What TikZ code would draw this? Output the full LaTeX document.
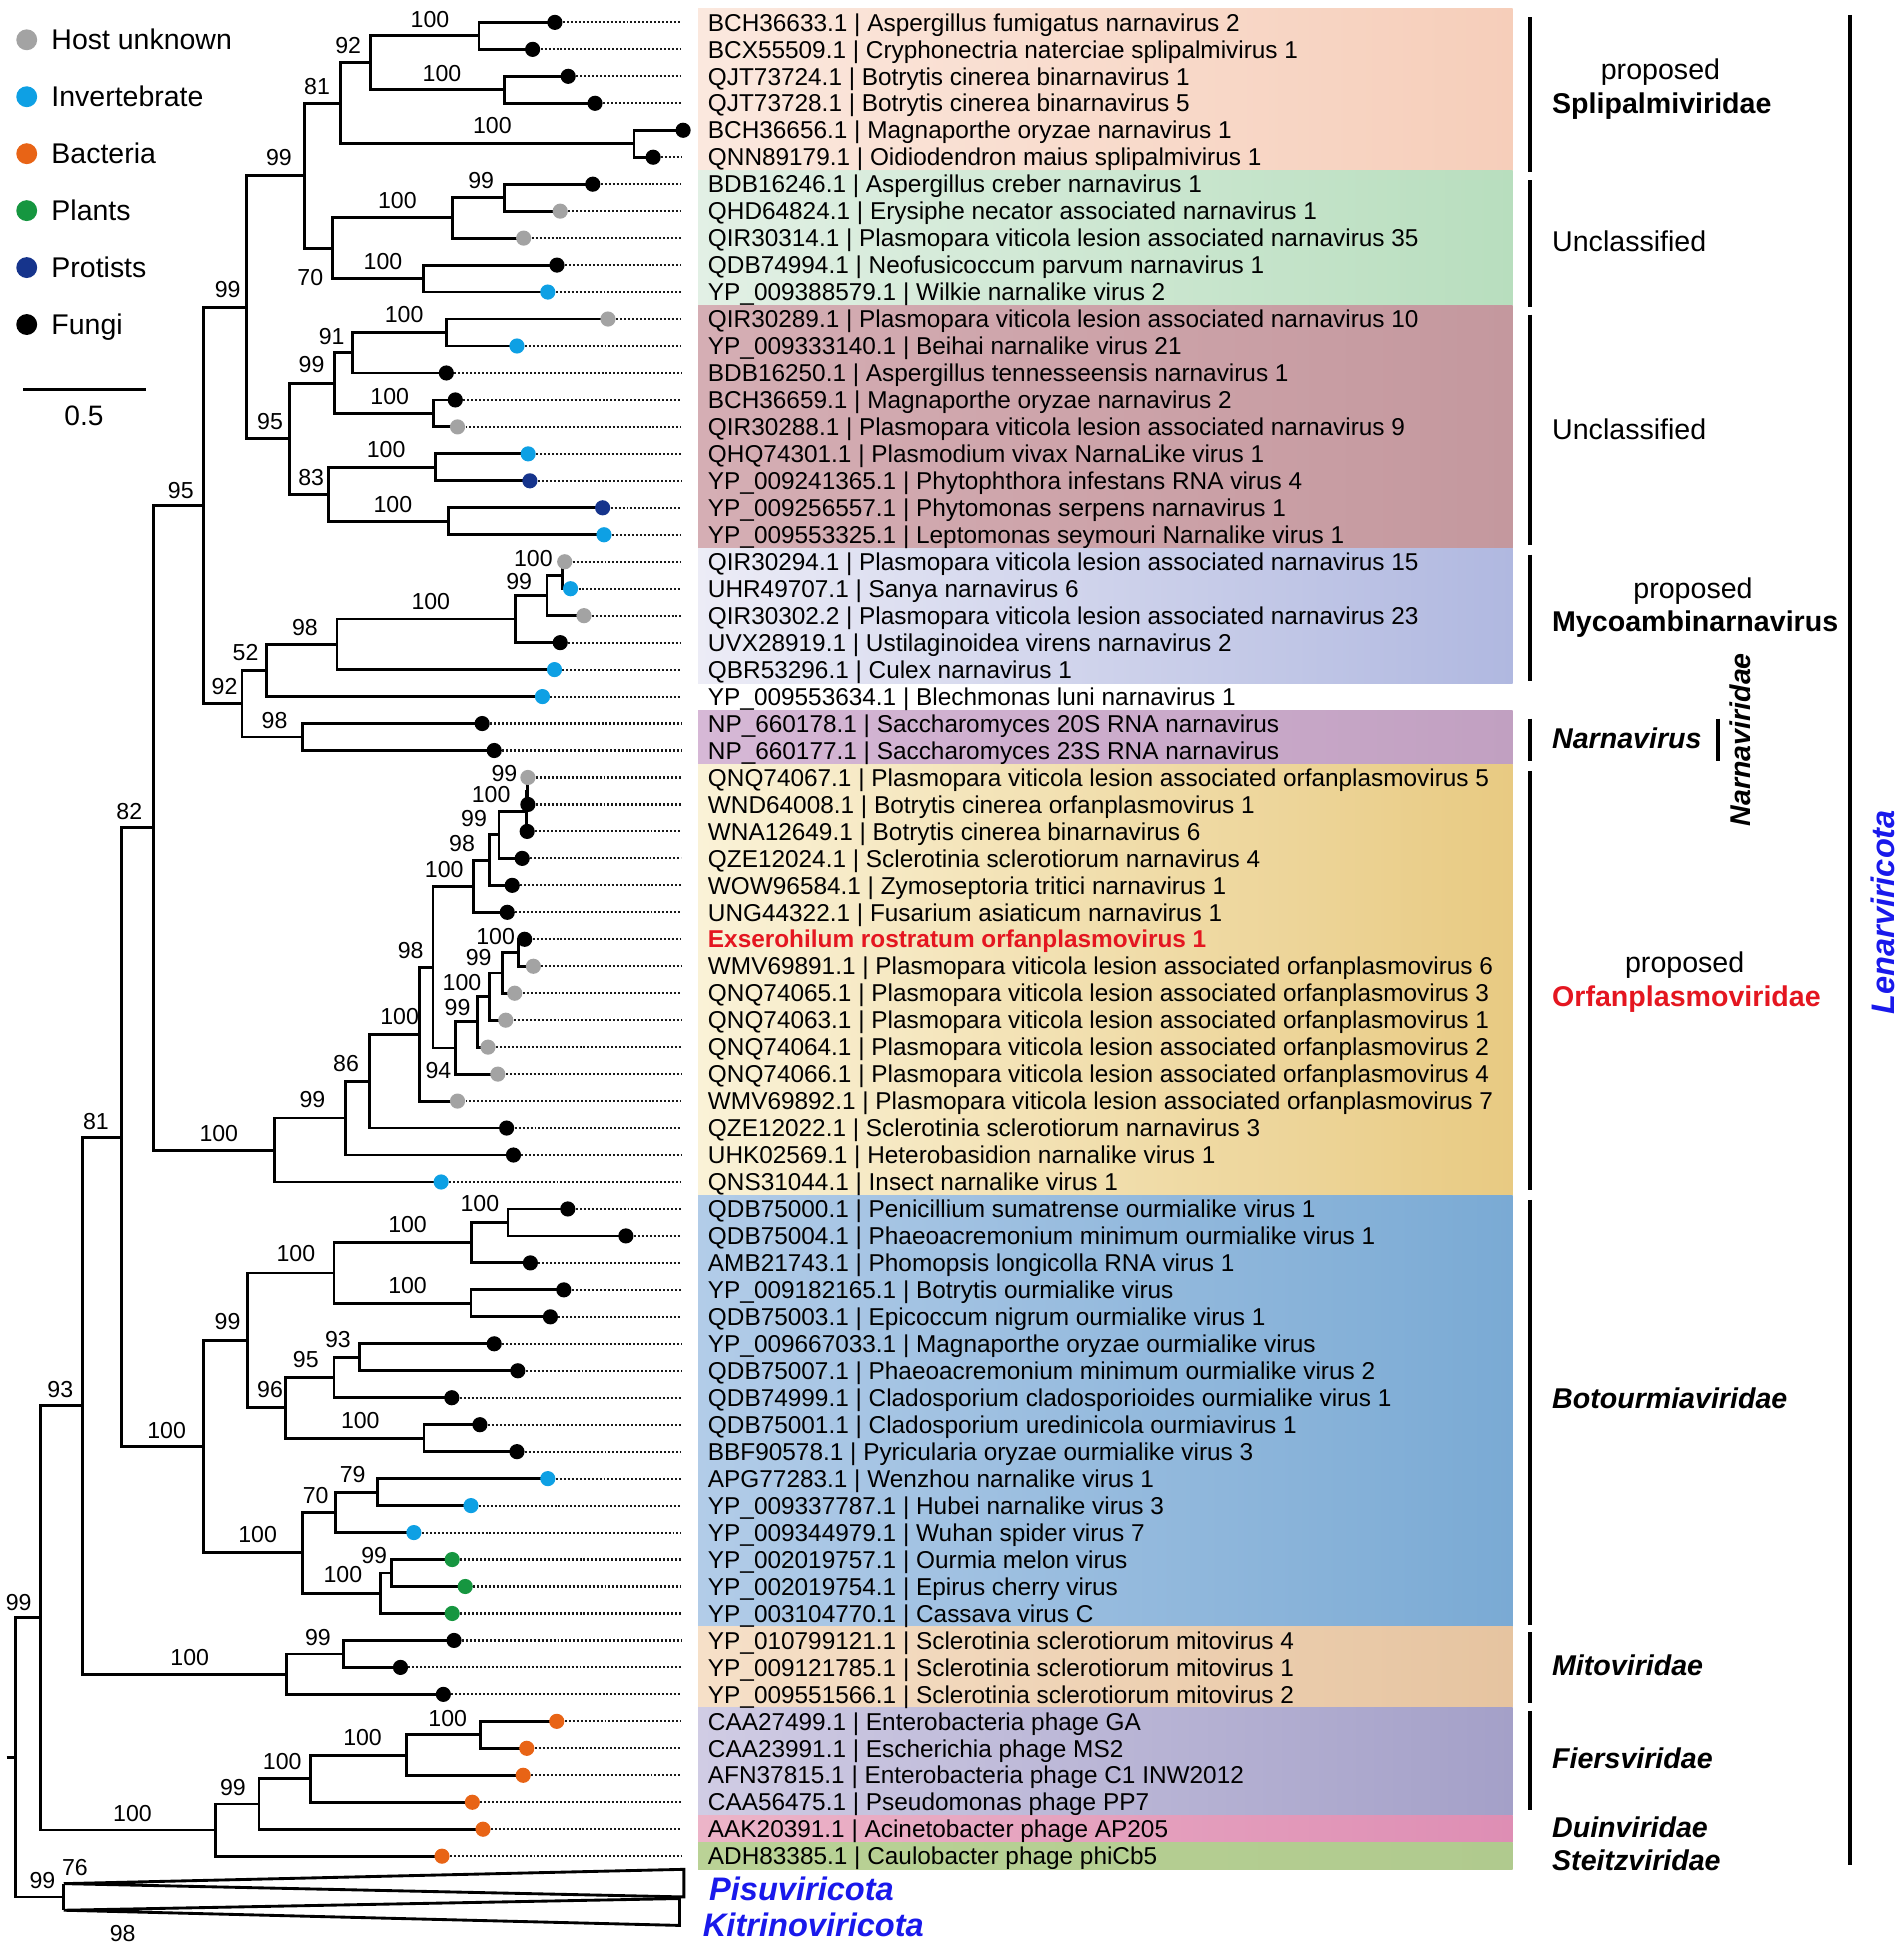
\documentclass[tikz,border=0pt]{standalone}
\usepackage{fontspec}
\setmainfont{Liberation Sans}
\definecolor{hostg}{RGB}{163,163,163}
\definecolor{invb}{RGB}{14,160,228}
\definecolor{bacto}{RGB}{232,100,22}
\definecolor{plantg}{RGB}{22,150,64}
\definecolor{protb}{RGB}{22,52,140}
\definecolor{fungi}{RGB}{0,0,0}
\definecolor{phylblue}{RGB}{25,25,235}
\definecolor{hlred}{RGB}{228,22,32}
\definecolor{bal}{RGB}{251,232,222}\definecolor{bar}{RGB}{246,206,186}
\definecolor{bbl}{RGB}{226,240,229}\definecolor{bbr}{RGB}{184,222,190}
\definecolor{bcl}{RGB}{213,174,180}\definecolor{bcr}{RGB}{196,152,158}
\definecolor{bdl}{RGB}{236,236,246}\definecolor{bdr}{RGB}{176,184,224}
\definecolor{bel}{RGB}{214,184,214}\definecolor{ber}{RGB}{193,160,193}
\definecolor{bfl}{RGB}{250,242,215}\definecolor{bfr}{RGB}{232,202,130}
\definecolor{bgl}{RGB}{178,204,232}\definecolor{bgr}{RGB}{122,170,212}
\definecolor{bhl}{RGB}{246,224,200}\definecolor{bhr}{RGB}{230,196,160}
\definecolor{bil}{RGB}{208,204,228}\definecolor{bir}{RGB}{164,160,200}
\definecolor{bjl}{RGB}{236,180,200}\definecolor{bjr}{RGB}{222,142,180}
\definecolor{bkl}{RGB}{186,210,150}\definecolor{bkr}{RGB}{176,202,142}
\tikzset{
  branch/.style={line width=1.15pt, line join=miter},
  tipline/.style={line width=0.85pt, dash pattern=on 0.8pt off 0.8pt, black!90},
  taxon/.style={anchor=west, inner sep=0pt, text height=7.0pt, text depth=0pt, font=\fontsize{9.8pt}{11pt}\selectfont},
  sup/.style={inner sep=0pt, text height=6.66pt, text depth=0pt, font=\fontsize{9.3pt}{11pt}\selectfont},
  legtext/.style={anchor=west, inner sep=0pt, text height=8.2pt, text depth=0pt, font=\fontsize{11.45pt}{13pt}\selectfont},
  cladetext/.style={anchor=west, inner sep=0pt, text height=8.23pt, text depth=0pt, font=\fontsize{11.5pt}{13.5pt}\selectfont},
  proptext/.style={inner sep=0pt, text height=8.23pt, text depth=0pt, font=\fontsize{11.5pt}{13.5pt}\selectfont},
  phyltext/.style={anchor=west, inner sep=0pt, text height=9.4pt, text depth=0pt, font=\fontsize{13.1pt}{15pt}\selectfont\bfseries\itshape, text=phylblue},
  cbar/.style={line width=1.5pt},
}
\def\tiplist{1/446.3/fungi,2/428.4/fungi,3/457/fungi,4/478.6/fungi,5/549.4/fungi,6/525.3/fungi,7/476.8/fungi,8/450.6/hostg,9/421.2/hostg,10/448/fungi,11/440.6/invb,12/489/hostg,13/415.8/invb,14/359/fungi,15/366.2/fungi,16/368/hostg,17/424.8/invb,18/426.2/protb,19/484.7/protb,20/485.8/invb,21/454.2/hostg,22/458.9/invb,23/469.7/hostg,24/450.6/fungi,25/446/invb,26/436.3/invb,27/387.8/fungi,28/397.5/fungi,29/424.6/hostg,30/424.6/fungi,31/424/fungi,32/420/fungi,33/412/fungi,34/408/fungi,35/422/fungi,36/429/hostg,37/414/hostg,38/406.8/hostg,39/392.5/hostg,40/400.4/hostg,41/368/hostg,42/407.5/fungi,43/413/fungi,44/354.8/invb,45/456.7/fungi,46/503.4/fungi,47/426.6/fungi,48/453.5/fungi,49/442.7/fungi,50/397.5/fungi,51/416.5/fungi,52/363.4/fungi,53/386/fungi,54/415.8/fungi,55/440.6/invb,56/378.8/invb,57/332.9/invb,58/363.7/plantg,59/374.2/plantg,60/363.7/plantg,61/365.2/fungi,62/322.1/fungi,63/356.6/fungi,64/447.8/bacto,65/423.7/bacto,66/420.8/bacto,67/379.9/bacto,68/388.5/bacto,69/355.5/bacto}
\begin{document}
\begin{tikzpicture}[x=0.5pt,y=-0.5pt]
\useasboundingbox (0,0) rectangle (1530,1570);
% background bands
\foreach \ya/\yb/\cl/\cr in {7.15/137.3/bal/bar,137.3/245.75/bbl/bbr,245.75/440.96/bcl/bcr,440.96/549.4/bdl/bdr,571.1/614.48/bel/ber,614.48/961.5/bfl/bfr,961.5/1308.56/bgl/bgr,1308.56/1373.6/bhl/bhr,1373.6/1460.4/bil/bir,1460.4/1482.06/bjl/bjr,1482.06/1503.75/bkl/bkr}
  \shade[left color=\cl, right color=\cr] (561.5,\ya) rectangle (1216.5,\yb);
% tips and dotted leaders
\foreach \r/\x/\cc in \tiplist {
  \coordinate (t\r) at (\x,{18+(\r-1)*21.69});
  \coordinate (e\r) at (548,{18+(\r-1)*21.69});
  \draw[tipline] (t\r) -- (e\r);
}
% internal nodes
\coordinate (a1) at (385.3,28.85);
\coordinate (a2) at (405.7,72.25);
\coordinate (a3) at (298,50.55);
\coordinate (a4) at (509.9,115.65);
\coordinate (a5) at (274,83.1);
\coordinate (b1) at (405.7,158.95);
\coordinate (b2) at (363.7,175.2);
\coordinate (b3) at (340.4,224.05);
\coordinate (b4) at (267.5,199.6);
\coordinate (c1) at (245.2,141.35);
\coordinate (d1) at (359,267.45);
\coordinate (d2) at (283.7,283.7);
\coordinate (d3) at (349,332.55);
\coordinate (d4) at (269.3,308.1);
\coordinate (e1) at (350,375.85);
\coordinate (e2) at (360.9,419.25);
\coordinate (e3) at (263.9,397.55);
\coordinate (d5) at (232.7,352.8);
\coordinate (c2) at (198.6,247.1);
\coordinate (f1) at (452.4,462.65);
\coordinate (f2) at (439.9,478.9);
\coordinate (f3) at (414.7,497.9);
\coordinate (f4) at (271,518.25);
\coordinate (f5) at (214.4,539.3);
\coordinate (g1) at (243,592.75);
\coordinate (f6) at (194.6,566);
\coordinate (c3) at (163.4,406.55);
\coordinate (h1) at (424.2,636.15);
\coordinate (h2) at (423.4,652.4);
\coordinate (h3) at (401.4,671.4);
\coordinate (h4) at (394,691.75);
\coordinate (h5) at (380.6,712.8);
\coordinate (i1) at (417.2,766.35);
\coordinate (i2) at (404,782.6);
\coordinate (i3) at (394,801.55);
\coordinate (i4) at (384.2,821.9);
\coordinate (i5) at (366.2,842.9);
\coordinate (j1) at (348.3,777.85);
\coordinate (j2) at (337.5,831.7);
\coordinate (j3) at (297.3,869.5);
\coordinate (j4) at (277.6,899.25);
\coordinate (j5) at (220.8,925);
\coordinate (c4) at (123.2,665.8);
\coordinate (k1) at (408.6,983.25);
\coordinate (k2) at (379.5,999.5);
\coordinate (k3) at (378.8,1048.25);
\coordinate (k4) at (268.6,1023.9);
\coordinate (l1) at (289,1091.65);
\coordinate (l2) at (268.6,1107.9);
\coordinate (l3) at (341,1156.75);
\coordinate (l4) at (229.8,1132.3);
\coordinate (k5) at (199.3,1078.1);
\coordinate (m1) at (303.4,1200.15);
\coordinate (m2) at (270,1216.4);
\coordinate (m3) at (314.9,1265.15);
\coordinate (m4) at (306.3,1281.4);
\coordinate (m5) at (243.1,1248.9);
\coordinate (k6) at (163.4,1163.5);
\coordinate (c5) at (97.7,914.65);
\coordinate (n1) at (276.5,1330.25);
\coordinate (n2) at (230.5,1346.5);
\coordinate (c6) at (66.4,1130.6);
\coordinate (o1) at (386.7,1395.35);
\coordinate (o2) at (326.8,1411.6);
\coordinate (o3) at (249.6,1430.6);
\coordinate (o4) at (208.3,1450.9);
\coordinate (o5) at (173.4,1471.9);
\coordinate (c7) at (32.3,1301.25);
\coordinate (pa) at (51.3,1515);
\coordinate (pb) at (51.3,1536.4);
\coordinate (p) at (51.3,1525.7);
\coordinate (root) at (12.6,1413.5);
\coordinate (stub) at (5.4,1413.5);
\coordinate (tra) at (550,1503.5);
\coordinate (trb) at (550,1525.7);
\coordinate (trc) at (546.5,1527);
\coordinate (trd) at (546.5,1548.6);
% branches
\foreach \n/\ca/\cb in {a1/t1/t2,a2/t3/t4,a3/a1/a2,a4/t5/t6,a5/a3/a4,b1/t7/t8,b2/b1/t9,b3/t10/t11,b4/b2/b3,c1/a5/b4,d1/t12/t13,d2/d1/t14,d3/t15/t16,d4/d2/d3,e1/t17/t18,e2/t19/t20,e3/e1/e2,d5/d4/e3,c2/c1/d5,f1/t21/t22,f2/f1/t23,f3/f2/t24,f4/f3/t25,f5/f4/t26,g1/t27/t28,f6/f5/g1,c3/c2/f6,h1/t29/t30,h2/h1/t31,h3/h2/t32,h4/h3/t33,h5/h4/t34,i1/t35/t36,i2/i1/t37,i3/i2/t38,i4/i3/t39,i5/i4/t40,j1/h5/i5,j2/j1/t41,j3/j2/t42,j4/j3/t43,j5/j4/t44,c4/c3/j5,k1/t45/t46,k2/k1/t47,k3/t48/t49,k4/k2/k3,l1/t50/t51,l2/l1/t52,l3/t53/t54,l4/l2/l3,k5/k4/l4,m1/t55/t56,m2/m1/t57,m3/t58/t59,m4/m3/t60,m5/m2/m4,k6/k5/m5,c5/c4/k6,n1/t61/t62,n2/n1/t63,c6/c5/n2,o1/t64/t65,o2/o1/t66,o3/o2/t67,o4/o3/t68,o5/o4/t69,c7/c6/o5,p/pa/pb,root/c7/p}
  \draw[branch] (\ca) -| (\n) |- (\cb);
\draw[branch] (stub) -- (root);
\draw[branch] (pa) -- (tra) -- (trb) -- cycle;
\draw[branch] (pb) -- (trc) -- (trd) -- cycle;
% tip dots
\foreach \r/\x/\cc in \tiplist
  \fill[\cc] (t\r) circle[radius=3.05pt];
% support values
\foreach \x/\y/\s [count=\i] in {345.8/15.1/100,280/36.1/92,355.5/58.5/100,255/69.1/81,396/100.7/100,224.4/126.6/99,387/145.3/99,319.6/161.1/100,308/209.9/100,249.6/222.9/70,183.1/233/99,325/253/100,266.8/270.3/91,250.6/293.3/99,313.5/318.6/100,217.2/338.7/95,310.6/361.7/100,250.3/383.8/83,316/405.3/100,145.4/394.5/95,429/448.8/100,417.6/467.8/99,346.5/483.6/100,245.2/504.3/98,197.5/524.4/52,220.8/579/98,180.6/551.7/92,104/652.7/82,405.7/622.1/99,395/638.5/100,381.3/658/99,371.6/678.1/98,357.3/699.1/100,398.6/752.8/100,385/770/99,371.6/790.2/100,368/810.3/99,352.6/860.6/94,330.3/764.3/98,321.4/817.5/100,278.3/854.9/86,251.3/884.1/99,176/911.6/100,77.2/901.5/81,386/968/100,327.8/984.7/100,327.8/1033.6/100,238/1008.3/100,271.8/1077.2/93,246/1093.6/95,289.8/1141.9/100,217.2/1117.5/96,183/1062.9/99,283.7/1185.9/79,253.9/1202.2/70,301/1251.1/99,275.8/1266.3/100,207.2/1233.9/100,134/1150.1/100,255.7/1316.9/99,152.6/1333/100,48.5/1117.5/93,360.1/1382/100,291.6/1397.2/100,227/1416.8/100,187.4/1437.4/99,106.6/1458.5/100,15/1288.4/99,34.1/1512/99,60.3/1501.5/76,98.7/1554.5/98}
  \node[sup] (s\i) at (\x,\y) {\s};
% taxon labels
\foreach \r/\txt in {1/BCH36633.1 | Aspergillus fumigatus narnavirus 2,
2/BCX55509.1 | Cryphonectria naterciae splipalmivirus 1,
3/QJT73724.1 | Botrytis cinerea binarnavirus 1,
4/QJT73728.1 | Botrytis cinerea binarnavirus 5,
5/BCH36656.1 | Magnaporthe oryzae narnavirus 1,
6/QNN89179.1 | Oidiodendron maius splipalmivirus 1,
7/BDB16246.1 | Aspergillus creber narnavirus 1,
8/QHD64824.1 | Erysiphe necator associated narnavirus 1,
9/QIR30314.1 | Plasmopara viticola lesion associated narnavirus 35,
10/QDB74994.1 | Neofusicoccum parvum narnavirus 1,
11/YP\_009388579.1 | Wilkie narnalike virus 2,
12/QIR30289.1 | Plasmopara viticola lesion associated narnavirus 10,
13/YP\_009333140.1 | Beihai narnalike virus 21,
14/BDB16250.1 | Aspergillus tennesseensis narnavirus 1,
15/BCH36659.1 | Magnaporthe oryzae narnavirus 2,
16/QIR30288.1 | Plasmopara viticola lesion associated narnavirus 9,
17/QHQ74301.1 | Plasmodium vivax NarnaLike virus 1,
18/YP\_009241365.1 | Phytophthora infestans RNA virus 4,
19/YP\_009256557.1 | Phytomonas serpens narnavirus 1,
20/YP\_009553325.1 | Leptomonas seymouri Narnalike virus 1,
21/QIR30294.1 | Plasmopara viticola lesion associated narnavirus 15,
22/UHR49707.1 | Sanya narnavirus 6,
23/QIR30302.2 | Plasmopara viticola lesion associated narnavirus 23,
24/UVX28919.1 | Ustilaginoidea virens narnavirus 2,
25/QBR53296.1 | Culex narnavirus 1,
26/YP\_009553634.1 | Blechmonas luni narnavirus 1,
27/NP\_660178.1 | Saccharomyces 20S RNA narnavirus,
28/NP\_660177.1 | Saccharomyces 23S RNA narnavirus,
29/QNQ74067.1 | Plasmopara viticola lesion associated orfanplasmovirus 5,
30/WND64008.1 | Botrytis cinerea orfanplasmovirus 1,
31/WNA12649.1 | Botrytis cinerea binarnavirus 6,
32/QZE12024.1 | Sclerotinia sclerotiorum narnavirus 4,
33/WOW96584.1 | Zymoseptoria tritici narnavirus 1,
34/UNG44322.1 | Fusarium asiaticum narnavirus 1,
36/WMV69891.1 | Plasmopara viticola lesion associated orfanplasmovirus 6,
37/QNQ74065.1 | Plasmopara viticola lesion associated orfanplasmovirus 3,
38/QNQ74063.1 | Plasmopara viticola lesion associated orfanplasmovirus 1,
39/QNQ74064.1 | Plasmopara viticola lesion associated orfanplasmovirus 2,
40/QNQ74066.1 | Plasmopara viticola lesion associated orfanplasmovirus 4,
41/WMV69892.1 | Plasmopara viticola lesion associated orfanplasmovirus 7,
42/QZE12022.1 | Sclerotinia sclerotiorum narnavirus 3,
43/UHK02569.1 | Heterobasidion narnalike virus 1,
44/QNS31044.1 | Insect narnalike virus 1,
45/QDB75000.1 | Penicillium sumatrense ourmialike virus 1,
46/QDB75004.1 | Phaeoacremonium minimum ourmialike virus 1,
47/AMB21743.1 | Phomopsis longicolla RNA virus 1,
48/YP\_009182165.1 | Botrytis ourmialike virus,
49/QDB75003.1 | Epicoccum nigrum ourmialike virus 1,
50/YP\_009667033.1 | Magnaporthe oryzae ourmialike virus,
51/QDB75007.1 | Phaeoacremonium minimum ourmialike virus 2,
52/QDB74999.1 | Cladosporium cladosporioides ourmialike virus 1,
53/QDB75001.1 | Cladosporium uredinicola ourmiavirus 1,
54/BBF90578.1 | Pyricularia oryzae ourmialike virus 3,
55/APG77283.1 | Wenzhou narnalike virus 1,
56/YP\_009337787.1 | Hubei narnalike virus 3,
57/YP\_009344979.1 | Wuhan spider virus 7,
58/YP\_002019757.1 | Ourmia melon virus,
59/YP\_002019754.1 | Epirus cherry virus,
60/YP\_003104770.1 | Cassava virus C,
61/YP\_010799121.1 | Sclerotinia sclerotiorum mitovirus 4,
62/YP\_009121785.1 | Sclerotinia sclerotiorum mitovirus 1,
63/YP\_009551566.1 | Sclerotinia sclerotiorum mitovirus 2,
64/CAA27499.1 | Enterobacteria phage GA,
65/CAA23991.1 | Escherichia phage MS2,
66/AFN37815.1 | Enterobacteria phage C1 INW2012,
67/CAA56475.1 | Pseudomonas phage PP7,
68/AAK20391.1 | Acinetobacter phage AP205,
69/ADH83385.1 | Caulobacter phage phiCb5}
  \node[taxon] (lab\r) at (569,{18+(\r-1)*21.69}) {\txt};
\node[taxon, text=hlred, font=\fontsize{9.8pt}{11pt}\selectfont\bfseries] (lab35) at (569,{18+34*21.69}) {Exserohilum rostratum orfanplasmovirus 1};
% phyla of collapsed clades
\node[phyltext] (pisu) at (570,1519) {Pisuviricota};
\node[phyltext] (kitr) at (565,1548) {Kitrinoviricota};
% legend
\foreach \cc/\txt [count=\i from 0] in {hostg/Host unknown,invb/Invertebrate,bacto/Bacteria,plantg/Plants,protb/Protists,fungi/Fungi}{
  \fill[\cc] (21.5,{32+45.8*\i}) circle[radius=4.2pt];
  \node[legtext] (leg\i) at (41,{32+45.8*\i}) {\txt};
}
\coordinate (sbl) at (18.7,313);
\coordinate (sbr) at (117.8,313);
\draw[line width=1.15pt] (sbl) -- (sbr);
\node[inner sep=0pt, text height=8.1pt, text depth=0pt, font=\fontsize{11.3pt}{13pt}\selectfont] (sbt) at (67.5,334.5) {0.5};
% clade bars
\foreach \ya/\yb in {14/138,145/247,253/438,446/548,578/612,620/957,965/1307,1313/1370,1376/1456}
  \draw[cbar] (1230.5,\ya) -- (1230.5,\yb);
\draw[line width=1.6pt] (1381.5,578) -- (1381.5,612);
\draw[line width=1.3pt] (1488,12) -- (1488,1500);
% clade names
\node[proptext] (pr1) at (1335.5,56) {proposed};
\node[cladetext, font=\fontsize{11.5pt}{13.5pt}\selectfont\bfseries] (cl1) at (1248,83) {Splipalmiviridae};
\node[cladetext] (cl2) at (1248,194) {Unclassified};
\node[cladetext] (cl3) at (1248,345) {Unclassified};
\node[proptext] (pr2) at (1361.7,473) {proposed};
\node[cladetext, font=\fontsize{11.5pt}{13.5pt}\selectfont\bfseries] (cl4) at (1248,500) {Mycoambinarnavirus};
\node[cladetext, font=\fontsize{11.5pt}{13.5pt}\selectfont\bfseries\itshape] (cl5) at (1248,593.5) {Narnavirus};
\node[proptext] (pr3) at (1355,774) {proposed};
\node[cladetext, text=hlred, font=\fontsize{11.5pt}{13.5pt}\selectfont\bfseries] (cl6) at (1248,801) {Orfanplasmoviridae};
\node[cladetext, font=\fontsize{11.5pt}{13.5pt}\selectfont\bfseries\itshape] (cl7) at (1248,1125) {Botourmiaviridae};
\node[cladetext, font=\fontsize{11.5pt}{13.5pt}\selectfont\bfseries\itshape] (cl8) at (1248,1339) {Mitoviridae};
\node[cladetext, font=\fontsize{11.5pt}{13.5pt}\selectfont\bfseries\itshape] (cl9) at (1248,1414) {Fiersviridae};
\node[cladetext, font=\fontsize{11.5pt}{13.5pt}\selectfont\bfseries\itshape] (cl10) at (1248,1469.5) {Duinviridae};
\node[cladetext, font=\fontsize{11.5pt}{13.5pt}\selectfont\bfseries\itshape] (cl11) at (1248,1496) {Steitzviridae};
\node[rotate=90, inner sep=0pt, text height=8.23pt, text depth=0pt, font=\fontsize{11.5pt}{13.5pt}\selectfont\bfseries\itshape] (narv) at (1399.3,595) {Narnaviridae};
\node[rotate=90, inner sep=0pt, text height=9.4pt, text depth=0pt, text=phylblue, font=\fontsize{13.1pt}{15pt}\selectfont\bfseries\itshape] (lenv) at (1514,733.8) {Lenarviricota};
\end{tikzpicture}
\end{document}
